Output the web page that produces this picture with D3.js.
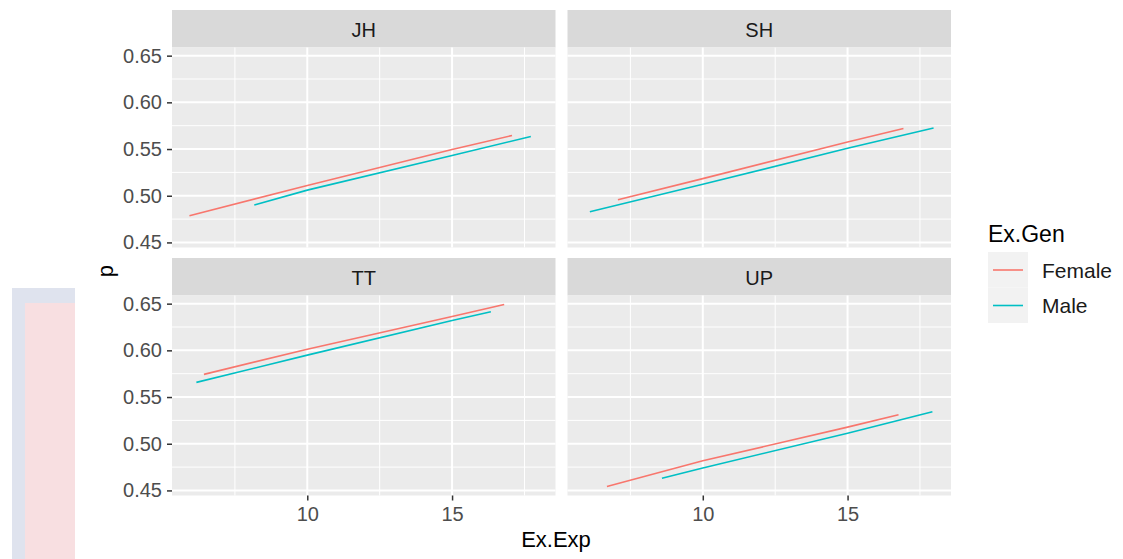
<!DOCTYPE html>
<html>
<head>
<meta charset="utf-8">
<script src="https://cdn.jsdelivr.net/npm/d3@7"></script>
<style>
  body { margin: 0; background: #fff; }
  svg { display: block; font-family: "Liberation Sans", Arial, sans-serif; }
</style>
</head>
<body>
<svg id="chart" width="1123" height="559"></svg>
<script>
// facets and groups
const panels = ["JH", "SH", "TT", "UP"];
const genders = ["Female", "Male"];
const genderColors = ["#F8766D", "#00BFC4"];

// Ex.Exp values read at the line ends and at 10 / 15
const jhFemaleExp = [5.93, 10, 15, 17.07];
const jhFemaleP   = [0.4785, 0.511, 0.5495, 0.5645];
const jhMaleExp   = [8.17, 10, 15, 17.72];
const jhMaleP     = [0.490, 0.506, 0.543, 0.5635];

const shFemaleExp = [7.07, 10, 15, 16.93];
const shFemaleP   = [0.4957, 0.5183, 0.5575, 0.572];
const shMaleExp   = [6.1, 10, 15, 17.97];
const shMaleP     = [0.4828, 0.5122, 0.5508, 0.5726];

const ttFemaleExp = [6.43, 10, 15, 16.8];
const ttFemaleP   = [0.5743, 0.6012, 0.6362, 0.649];
const ttMaleExp   = [6.17, 10, 15, 16.34];
const ttMaleP     = [0.5657, 0.5949, 0.632, 0.6414];

const upFemaleExp = [6.69, 10, 15, 16.76];
const upFemaleP   = [0.4543, 0.4817, 0.5178, 0.531];
const upMaleExp   = [8.59, 10, 15, 17.93];
const upMaleP     = [0.463, 0.4741, 0.5113, 0.5343];

const xTicks = [10, 15];
const xMinor = [7.5, 12.5, 17.5];
const yTicks = [0.45, 0.50, 0.55, 0.60, 0.65];
const yMinor = [0.475, 0.525, 0.575, 0.625];

const series = {
  JH: [[jhFemaleExp, jhFemaleP], [jhMaleExp, jhMaleP]],
  SH: [[shFemaleExp, shFemaleP], [shMaleExp, shMaleP]],
  TT: [[ttFemaleExp, ttFemaleP], [ttMaleExp, ttMaleP]],
  UP: [[upFemaleExp, upFemaleP], [upMaleExp, upMaleP]]
};

const svg = d3.select("#chart");

// background artifact on the left of the screenshot
svg.append("rect").attr("x", 12).attr("y", 288).attr("width", 63).attr("height", 271).attr("fill", "#dfe3ee");
svg.append("rect").attr("x", 25).attr("y", 303).attr("width", 50).attr("height", 256).attr("fill", "#f8dfe1");

// ggplot-like expanded domains
let allX = [], allY = [];
panels.forEach(p => series[p].forEach(s => { allX = allX.concat(s[0]); allY = allY.concat(s[1]); }));
const xe = d3.extent(allX), ye = d3.extent(allY);
const xPad = (xe[1] - xe[0]) * 0.05, yPad = (ye[1] - ye[0]) * 0.05;

const colLeft = [172, 567.5];
const rowTop = [10, 258];
const panelW = 383.5, stripH = 37.5, panelH = 200;

const x = d3.scaleLinear().domain([xe[0] - xPad, xe[1] + xPad]).range([0, panelW]);
const y = d3.scaleLinear().domain([ye[0] - yPad, ye[1] + yPad]).range([panelH, 0]);

const line = d3.line().x(d => x(d[0])).y(d => y(d[1]));

panels.forEach((name, i) => {
  const col = i % 2, row = Math.floor(i / 2);
  const g = svg.append("g")
      .attr("transform", "translate(" + colLeft[col] + "," + rowTop[row] + ")");

  // strip
  g.append("rect").attr("width", panelW).attr("height", stripH).attr("fill", "#d9d9d9");
  g.append("text")
      .attr("x", panelW / 2).attr("y", stripH / 2 + 1)
      .attr("text-anchor", "middle").attr("dominant-baseline", "central")
      .attr("font-size", 20).attr("fill", "#1a1a1a")
      .text(name);

  const p = g.append("g").attr("transform", "translate(0," + stripH + ")");
  p.append("rect").attr("width", panelW).attr("height", panelH).attr("fill", "#ebebeb");

  p.selectAll(".ymin").data(yMinor).enter().append("line")
      .attr("x1", 0).attr("x2", panelW)
      .attr("y1", d => y(d)).attr("y2", d => y(d))
      .attr("stroke", "#fff").attr("stroke-width", 1);
  p.selectAll(".xmin").data(xMinor).enter().append("line")
      .attr("y1", 0).attr("y2", panelH)
      .attr("x1", d => x(d)).attr("x2", d => x(d))
      .attr("stroke", "#fff").attr("stroke-width", 1);
  p.selectAll(".ymaj").data(yTicks).enter().append("line")
      .attr("x1", 0).attr("x2", panelW)
      .attr("y1", d => y(d)).attr("y2", d => y(d))
      .attr("stroke", "#fff").attr("stroke-width", 2);
  p.selectAll(".xmaj").data(xTicks).enter().append("line")
      .attr("y1", 0).attr("y2", panelH)
      .attr("x1", d => x(d)).attr("x2", d => x(d))
      .attr("stroke", "#fff").attr("stroke-width", 2);

  series[name].forEach((s, k) => {
    p.append("path")
        .datum(d3.zip(s[0], s[1]))
        .attr("d", line)
        .attr("fill", "none")
        .attr("stroke", genderColors[k])
        .attr("stroke-width", 1.6);
  });

  if (col === 0) {
    const ya = p.append("g")
        .call(d3.axisLeft(y).tickValues(yTicks).tickFormat(d3.format(".2f")).tickSize(5).tickPadding(5));
    ya.select(".domain").remove();
    ya.selectAll("line").attr("stroke", "#333").attr("stroke-width", 1.5);
    ya.selectAll("text").attr("font-size", 20).attr("fill", "#4d4d4d")
        .attr("font-family", "Liberation Sans, Arial, sans-serif");
  }
  if (row === 1) {
    const xa = p.append("g").attr("transform", "translate(0," + panelH + ")")
        .call(d3.axisBottom(x).tickValues(xTicks).tickSize(5).tickPadding(6));
    xa.select(".domain").remove();
    xa.selectAll("line").attr("stroke", "#333").attr("stroke-width", 1.5);
    xa.selectAll("text").attr("font-size", 20).attr("fill", "#4d4d4d")
        .attr("font-family", "Liberation Sans, Arial, sans-serif");
  }
});

// axis titles
svg.append("text")
    .attr("x", 556).attr("y", 547)
    .attr("text-anchor", "middle").attr("font-size", 22).attr("fill", "#000")
    .text("Ex.Exp");
svg.append("text")
    .attr("transform", "translate(113,271) rotate(-90)")
    .attr("text-anchor", "middle").attr("font-size", 22).attr("fill", "#000")
    .text("p");

// legend
const legend = svg.append("g").attr("transform", "translate(988,252)");
legend.append("text")
    .attr("x", 0).attr("y", -10)
    .attr("font-size", 23).attr("fill", "#000")
    .text("Ex.Gen");
genders.forEach((gname, k) => {
  const item = legend.append("g").attr("transform", "translate(0," + (k * 35.5) + ")");
  item.append("rect").attr("width", 40).attr("height", 35.5).attr("fill", "#f2f2f2");
  item.append("line")
      .attr("x1", 5).attr("x2", 35).attr("y1", 18).attr("y2", 18)
      .attr("stroke", genderColors[k]).attr("stroke-width", 1.6);
  item.append("text")
      .attr("x", 54).attr("y", 18)
      .attr("dominant-baseline", "central")
      .attr("font-size", 21).attr("fill", "#1a1a1a")
      .text(gname);
});
</script>
</body>
</html>
